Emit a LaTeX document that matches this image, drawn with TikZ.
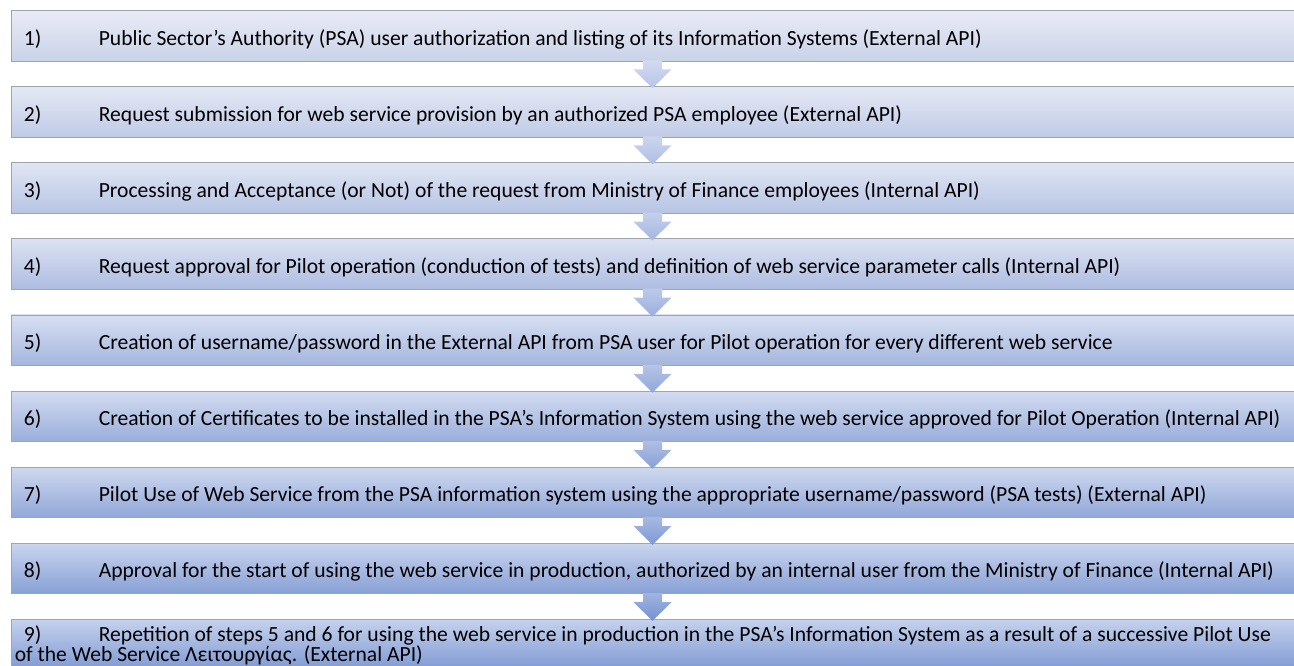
\documentclass[tikz,border=0pt]{standalone}
\usepackage{fontspec}
\setmainfont{Carlito}
\usetikzlibrary{calc}

\definecolor{boxtopA}{RGB}{233,236,246}
\definecolor{boxtopB}{RGB}{198,210,237}
\definecolor{boxbotA}{RGB}{202,210,233}
\definecolor{boxbotB}{RGB}{126,153,211}
\definecolor{arrtopA}{RGB}{210,218,240}
\definecolor{arrtopB}{RGB}{160,180,224}
\definecolor{arrbotA}{RGB}{184,197,231}
\definecolor{arrbotB}{RGB}{116,145,207}
\definecolor{boxline}{RGB}{160,164,172}

\tikzset{
  stepbox/.style={draw=boxline, line width=0.8pt, rectangle, minimum width=1283pt,
    minimum height=50.5pt, inner sep=0pt},
  boxtint/.style={top color=boxtopB!#1!boxtopA, bottom color=boxbotB!#1!boxbotA},
  arrowtint/.style={top color=arrtopB!#1!arrtopA, bottom color=arrbotB!#1!arrbotA},
  steptext/.style={anchor=base west, inner sep=0pt, text=black,
    font=\fontsize{21.6pt}{19pt}\selectfont}
}

% block arrow from the bottom of one box to the top of the next
\newcommand{\steparrow}[3]{%
  \shade[arrowtint=#3] ($(#1.south)+(-9.5,-1)$) -- ($(#1.south)+(9.5,-1)$)
    -- ($(#1.south)+(9.5,8)$) -- ($(#1.south)+(19,8)$) -- ($(#2.north)+(0,2)$)
    -- ($(#1.south)+(-19,8)$) -- ($(#1.south)+(-9.5,8)$) -- cycle;}

\begin{document}
\begin{tikzpicture}[x=1pt, y=-1pt]
\useasboundingbox (0,0) rectangle (1294,666);

\node[stepbox, boxtint=0]   (s1) at (652.5,35.75)  {};
\node[stepbox, boxtint=13]  (s2) at (652.5,111.85) {};
\node[stepbox, boxtint=25]  (s3) at (652.5,187.95) {};
\node[stepbox, boxtint=38]  (s4) at (652.5,264.05) {};
\node[stepbox, boxtint=50]  (s5) at (652.5,340.15) {};
\node[stepbox, boxtint=63]  (s6) at (652.5,416.25) {};
\node[stepbox, boxtint=75]  (s7) at (652.5,492.35) {};
\node[stepbox, boxtint=88]  (s8) at (652.5,568.45) {};
\node[stepbox, boxtint=100] (s9) at (652.5,644.55) {};

\steparrow{s1}{s2}{0}
\steparrow{s2}{s3}{14}
\steparrow{s3}{s4}{29}
\steparrow{s4}{s5}{43}
\steparrow{s5}{s6}{57}
\steparrow{s6}{s7}{71}
\steparrow{s7}{s8}{86}
\steparrow{s8}{s9}{100}

\node[steptext] (n1) at ([xshift=13pt,yshift=-9.3pt]s1.west) {1)};
\node[steptext] (t1) at ([xshift=88pt,yshift=-9.3pt]s1.west) {Public Sector’s Authority (PSA) user authorization and listing of its Information Systems (External API)};
\node[steptext] (n2) at ([xshift=13pt,yshift=-9.3pt]s2.west) {2)};
\node[steptext] (t2) at ([xshift=88pt,yshift=-9.3pt]s2.west) {Request submission for web service provision by an authorized PSA employee (External API)};
\node[steptext] (n3) at ([xshift=13pt,yshift=-9.3pt]s3.west) {3)};
\node[steptext] (t3) at ([xshift=88pt,yshift=-9.3pt]s3.west) {Processing and Acceptance (or Not) of the request from Ministry of Finance employees (Internal API)};
\node[steptext] (n4) at ([xshift=13pt,yshift=-9.3pt]s4.west) {4)};
\node[steptext] (t4) at ([xshift=88pt,yshift=-9.3pt]s4.west) {Request approval for Pilot operation (conduction of tests) and definition of web service parameter calls (Internal API)};
\node[steptext] (n5) at ([xshift=13pt,yshift=-9.3pt]s5.west) {5)};
\node[steptext] (t5) at ([xshift=88pt,yshift=-9.3pt]s5.west) {Creation of username/password in the External API from PSA user for Pilot operation for every different web service};
\node[steptext] (n6) at ([xshift=13pt,yshift=-9.3pt]s6.west) {6)};
\node[steptext] (t6) at ([xshift=88pt,yshift=-9.3pt]s6.west) {Creation of Certificates to be installed in the PSA’s Information System using the web service approved for Pilot Operation (Internal API)};
\node[steptext] (n7) at ([xshift=13pt,yshift=-9.3pt]s7.west) {7)};
\node[steptext] (t7) at ([xshift=88pt,yshift=-9.3pt]s7.west) {Pilot Use of Web Service from the PSA information system using the appropriate username/password (PSA tests) (External API)};
\node[steptext] (n8) at ([xshift=13pt,yshift=-9.3pt]s8.west) {8)};
\node[steptext] (t8) at ([xshift=88pt,yshift=-9.3pt]s8.west) {Approval for the start of using the web service in production, authorized by an internal user from the Ministry of Finance (Internal API)};
\node[steptext] (n9) at ([xshift=13pt,yshift=2.8pt]s9.west) {9)};
\node[steptext] (t9) at ([xshift=88pt,yshift=2.8pt]s9.west) {Repetition of steps 5 and 6 for using the web service in production in the PSA’s Information System as a result of a successive Pilot Use};
\node[steptext] (t9b) at ([xshift=4pt,yshift=-16.6pt]s9.west) {of the Web Service Λειτουργίας. (External API)};
\end{tikzpicture}
\end{document}
